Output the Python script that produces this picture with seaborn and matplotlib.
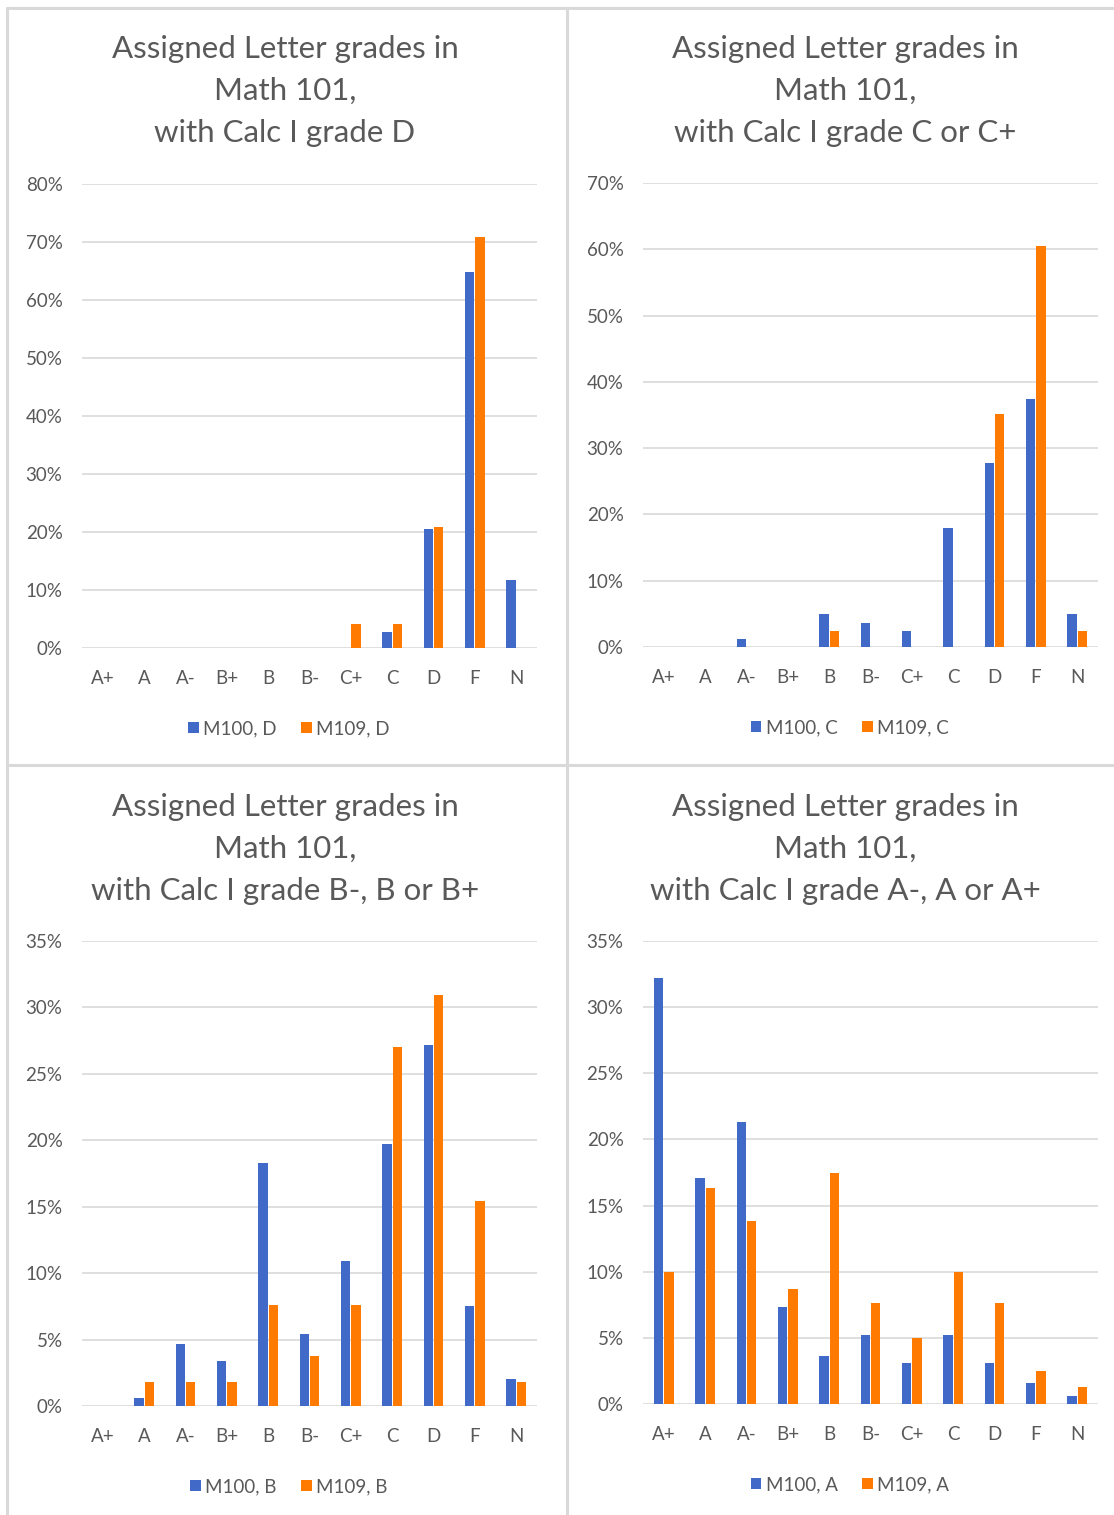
import matplotlib
matplotlib.use("Agg")
import matplotlib.pyplot as plt
from matplotlib.lines import Line2D
from matplotlib.ticker import FuncFormatter, MultipleLocator
import pandas as pd
import seaborn as sns

grades = ["A+", "A", "A-", "B+", "B", "B-", "C+", "C", "D", "F", "N"]

# Percent of students receiving each Math 101 letter grade, by Calc I grade band
m100_d = [0, 0, 0, 0, 0, 0, 0, 2.8, 20.6, 64.9, 11.7]
m109_d = [0, 0, 0, 0, 0, 0, 4.2, 4.2, 20.8, 70.8, 0]

m100_c = [0, 0, 1.2, 0, 5.0, 3.6, 2.4, 18.0, 27.8, 37.4, 5.0]
m109_c = [0, 0, 0, 0, 2.4, 0, 0, 0, 35.1, 60.5, 2.4]

m100_b = [0, 0.6, 4.7, 3.4, 18.3, 5.4, 10.9, 19.7, 27.2, 7.5, 2.0]
m109_b = [0, 1.8, 1.8, 1.8, 7.6, 3.8, 7.6, 27.0, 30.9, 15.4, 1.8]

m100_a = [32.2, 17.1, 21.3, 7.3, 3.6, 5.2, 3.1, 5.2, 3.1, 1.6, 0.6]
m109_a = [10.0, 16.3, 13.8, 8.7, 17.5, 7.6, 5.0, 10.0, 7.6, 2.5, 1.3]

subtitles = ["with Calc I grade D", "with Calc I grade C or C+",
             "with Calc I grade B-, B or B+", "with Calc I grade A-, A or A+"]
series_names = [("M100, D", "M109, D"), ("M100, C", "M109, C"),
                ("M100, B", "M109, B"), ("M100, A", "M109, A")]
series_values = [(m100_d, m109_d), (m100_c, m109_c),
                 (m100_b, m109_b), (m100_a, m109_a)]
y_max = [80, 70, 35, 35]
y_step = [10, 10, 5, 5]

BLUE = "#4169C8"
ORANGE = "#FF7A00"
TEXT = "#595959"
GRID = "#D9D9D9"

sns.set_theme(style="white")
plt.rcParams["font.family"] = ["Lato", "DejaVu Sans"]

W, H = 1114, 1515
fig = plt.figure(figsize=(W / 100, H / 100), dpi=100)
fig.patch.set_facecolor("white")

# axes rectangles in pixel units: left, top, right, bottom
boxes = [(82, 184, 537, 648), (643, 183, 1098, 647),
         (82, 941, 537, 1406), (643, 941, 1098, 1404)]
title_x = [285, 845, 285, 845]
title_y = [(49, 91, 133), (49, 91, 133), (807, 849, 891), (807, 849, 891)]

for i in range(4):
    l, t, r, b = boxes[i]
    ax = fig.add_axes([l / W, 1 - b / H, (r - l) / W, (b - t) / H])
    n1, n2 = series_names[i]
    v1, v2 = series_values[i]
    df = pd.DataFrame({
        "grade": grades * 2,
        "pct": list(v1) + list(v2),
        "series": [n1] * len(grades) + [n2] * len(grades),
    })
    sns.barplot(data=df, x="grade", y="pct", hue="series", order=grades,
                hue_order=[n1, n2], palette=[BLUE, ORANGE], width=0.5,
                gap=0.1, linewidth=0, saturation=1, ax=ax)
    ax.set_ylim(0, y_max[i])
    ax.yaxis.set_major_locator(MultipleLocator(y_step[i]))
    ax.yaxis.set_major_formatter(FuncFormatter(lambda v, p: f"{v:.0f}%"))
    ax.set_axisbelow(True)
    ax.grid(axis="y", color=GRID, linewidth=1.2)
    ax.grid(axis="x", visible=False)
    for s in ax.spines.values():
        s.set_visible(False)
    ax.set_xlabel("")
    ax.set_ylabel("")
    ax.tick_params(axis="x", length=0, pad=15.5, labelsize=13.5, labelcolor=TEXT)
    ax.tick_params(axis="y", length=0, pad=14, labelsize=13.5, labelcolor=TEXT)
    handles, labels = ax.get_legend_handles_labels()
    ax.legend(handles, labels, loc="center", bbox_to_anchor=(0.455, -0.174),
              ncol=2, frameon=False, fontsize=13.5, labelcolor=TEXT,
              handlelength=0.55, handleheight=0.55, handletextpad=0.25,
              columnspacing=1.3)
    for txt, yy in zip(["Assigned Letter grades in", "Math 101,", subtitles[i]],
                       title_y[i]):
        fig.text(title_x[i] / W, 1 - yy / H, txt, ha="center", va="center",
                 fontsize=22.5, color=TEXT)

# chart-area borders
lw = 2.2
for x0, y0, x1, y1 in [(7, 8, W, 8), (7, 8, 7, H), (567, 8, 567, H),
                       (7, 765, W, 765)]:
    fig.add_artist(Line2D([x0 / W, x1 / W], [1 - y0 / H, 1 - y1 / H],
                          transform=fig.transFigure, color=GRID, linewidth=lw))

fig.savefig("out.png", dpi=100)
